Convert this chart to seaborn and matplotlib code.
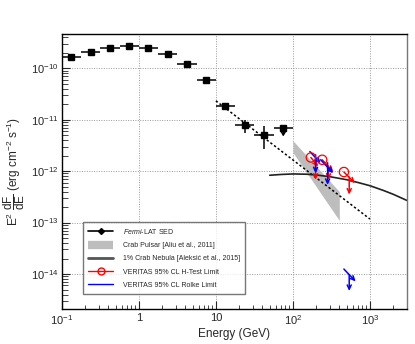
import numpy as np
import pandas as pd
import matplotlib
matplotlib.use("Agg")
import matplotlib.pyplot as plt
from matplotlib.lines import Line2D
import seaborn as sns

# ---- data ----
fermi_E = [0.133, 0.237, 0.422, 0.75, 1.33, 2.37, 4.22, 7.5, 13.3, 23.7, 42.2]
fermi_F = [1.68e-10, 2.1e-10, 2.5e-10, 2.67e-10, 2.5e-10, 1.92e-10, 1.23e-10, 5.9e-11, 1.8e-11, 7.8e-12, 5.1e-12]
fermi_Ferr = [0, 0, 0, 0, 0, 0, 0, 0, 2.5e-12, 2.2e-12, 2.4e-12]
fermi_ul_E = [75.0]
fermi_ul_F = [6.8e-12]
fermi_ul_tip = [4.7e-12]

pl_E = [10.0, 1000.0]
pl_F = [2.32e-11, 1.17e-13]

neb_E = [50, 70, 100, 150, 200, 300, 500, 700, 1000, 1500, 2000, 3000]
neb_F = [8.3e-13, 8.6e-13, 8.8e-13, 8.7e-13, 8.4e-13, 7.8e-13, 6.8e-13, 6.0e-13, 5.2e-13, 4.2e-13, 3.55e-13, 2.7e-13]

band_E = [100.0, 400.0]
band_lo = [2.3e-12, 1.1e-13]
band_hi = [3.9e-12, 4.0e-13]

# VERITAS limits: diagonal (E0,F0)->(E1,F1), arrow at Ea from Ftop to Ftip
htest_E0 = [171, 240, 459]
htest_F0 = [1.84e-12, 1.66e-12, 9.6e-13]
htest_E1 = [213, 333, 638]
htest_F1 = [1.23e-12, 9.8e-13, 5.85e-13]
htest_Ea = [197, 290, 538]
htest_Ftop = [1.5e-12, 1.2e-12, 7.7e-13]
htest_Ftip = [6.8e-13, 6.8e-13, 3.5e-13]

rolke_E0 = [166, 229, 459]
rolke_F0 = [2.40e-12, 1.66e-12, 1.25e-14]
rolke_E1 = [229, 333, 652]
rolke_F1 = [1.43e-12, 9.1e-13, 7.2e-15]
rolke_Ea = [197, 282, 538]
rolke_Ftop = [2.07e-12, 1.45e-12, 9.7e-15]
rolke_Ftip = [9.1e-13, 5.4e-13, 4.7e-15]

xtick_vals = [0.1, 1, 10, 100, 1000]
xtick_labels = [r"10$^{-1}$", "1", "10", r"10$^{2}$", r"10$^{3}$"]
ytick_vals = [1e-14, 1e-13, 1e-12, 1e-11, 1e-10]
ytick_labels = [r"10$^{-14}$", r"10$^{-13}$", r"10$^{-12}$", r"10$^{-11}$", r"10$^{-10}$"]

legend_labels = [r"$\mathit{Fermi}$-LAT SED", "Crab Pulsar [Aliu et al., 2011]",
                 "1% Crab Nebula [Aleksić et al., 2015]",
                 "VERITAS 95% CL H-Test Limit", "VERITAS 95% CL Rolke Limit"]

# ---- style ----
sns.set_theme(style="ticks")
plt.rcParams["font.family"] = ["Liberation Sans", "DejaVu Sans"]
plt.rcParams["mathtext.fontset"] = "custom"
plt.rcParams["mathtext.rm"] = "Liberation Sans"
plt.rcParams["mathtext.it"] = "Liberation Sans:italic"

fig = plt.figure(figsize=(4.15, 3.44), dpi=100)
ax = fig.add_axes([0.149, 0.102, 0.831, 0.799])
ax.set_xscale("log")
ax.set_yscale("log")
ax.set_xlim(0.1, 3000)
ax.set_ylim(2.1e-15, 4.6e-10)

# gray band
ax.fill_between(band_E, band_lo, band_hi, color="#bdbdbd", lw=0, zorder=1)

# power law dotted
sns.lineplot(x=pl_E, y=pl_F, ax=ax, color="black", lw=1.1, linestyle=(0, (1.5, 1.5)), zorder=2)
# nebula
sns.lineplot(x=neb_E, y=neb_F, ax=ax, color="#222222", lw=1.2, zorder=2, sort=True)

# Fermi points
E = np.array(fermi_E)
ax.errorbar(fermi_E, fermi_F, yerr=fermi_Ferr,
            xerr=[E - E / 10**0.125, E * 10**0.125 - E],
            fmt="s", color="black", ms=4, lw=1.1, capsize=0, zorder=4)
ulE = np.array(fermi_ul_E)
ax.errorbar(fermi_ul_E, fermi_ul_F, xerr=[ulE - ulE / 10**0.125, ulE * 10**0.125 - ulE],
            fmt="s", color="black", ms=4, lw=1.1, capsize=0, zorder=4)
for e, f, t in zip(fermi_ul_E, fermi_ul_F, fermi_ul_tip):
    ax.annotate("", xy=(e, t), xytext=(e, f),
                arrowprops=dict(arrowstyle="->,head_length=0.25,head_width=0.15", color="black", lw=1.1,
                                shrinkA=0, shrinkB=0), zorder=4)

def draw_limits(E0, F0, E1, F1, Ea, Ftop, Ftip, color, circle):
    style = "->,head_length=0.25,head_width=0.12"
    for i in range(len(E0)):
        ax.annotate("", xy=(E1[i], F1[i]), xytext=(E0[i], F0[i]),
                    arrowprops=dict(arrowstyle=style, color=color, lw=1.1,
                                    shrinkA=0, shrinkB=0), zorder=5)
        ax.annotate("", xy=(Ea[i], Ftip[i]), xytext=(Ea[i], Ftop[i]),
                    arrowprops=dict(arrowstyle=style, color=color, lw=1.1,
                                    shrinkA=0, shrinkB=0), zorder=5)
    if circle:
        ax.scatter(E0, F0, s=45, facecolors="none", edgecolors=color, linewidths=0.9, zorder=6)

draw_limits(htest_E0, htest_F0, htest_E1, htest_F1, htest_Ea, htest_Ftop, htest_Ftip, "red", True)
draw_limits(rolke_E0, rolke_F0, rolke_E1, rolke_F1, rolke_Ea, rolke_Ftop, rolke_Ftip, "blue", False)

# axes styling
ax.set_xticks(xtick_vals)
ax.set_xticklabels(xtick_labels)
ax.set_yticks(ytick_vals)
ax.set_yticklabels(ytick_labels)
ax.tick_params(which="major", direction="in", length=6, width=0.8, labelsize=8)
ax.tick_params(axis="x", which="major", pad=3)
ax.tick_params(axis="y", which="major", pad=2.5)
ax.tick_params(which="minor", direction="in", length=3, width=0.6)
ax.tick_params(axis="y", which="minor", length=4)
ax.grid(True, which="major", color="#999999", linestyle=(0, (1, 1.5)), lw=0.7)
for s in ax.spines.values():
    s.set_color("black")
    s.set_linewidth(1.0)
ax.spines["right"].set_color("#777777")

ax.set_xlabel("Energy (GeV)", fontsize=8.5, labelpad=1)
ax.set_ylabel(r"E$^{2}$ $\dfrac{\mathrm{dF}}{\mathrm{dE}}$ (erg cm$^{-2}$ s$^{-1}$)", fontsize=8.5, labelpad=3)

handles = [
    Line2D([0], [0], color="black", marker="D", ms=3, lw=1.2),
    Line2D([0], [0], color="#bdbdbd", lw=6, solid_capstyle="butt"),
    Line2D([0], [0], color="#555555", lw=2),
    Line2D([0], [0], color="red", marker="o", ms=5, mfc="none", lw=1),
    Line2D([0], [0], color="blue", lw=1),
]
leg = ax.legend(handles, legend_labels, loc="upper left", bbox_to_anchor=(0.062, 0.316),
                fontsize=5, frameon=True, fancybox=False, labelspacing=0.9,
                handlelength=3.6, handletextpad=1.5, borderpad=0.7, borderaxespad=0)
leg.get_frame().set_edgecolor("#555555")
leg.get_frame().set_linewidth(1.0)

fig.savefig("out.png", dpi=100)
